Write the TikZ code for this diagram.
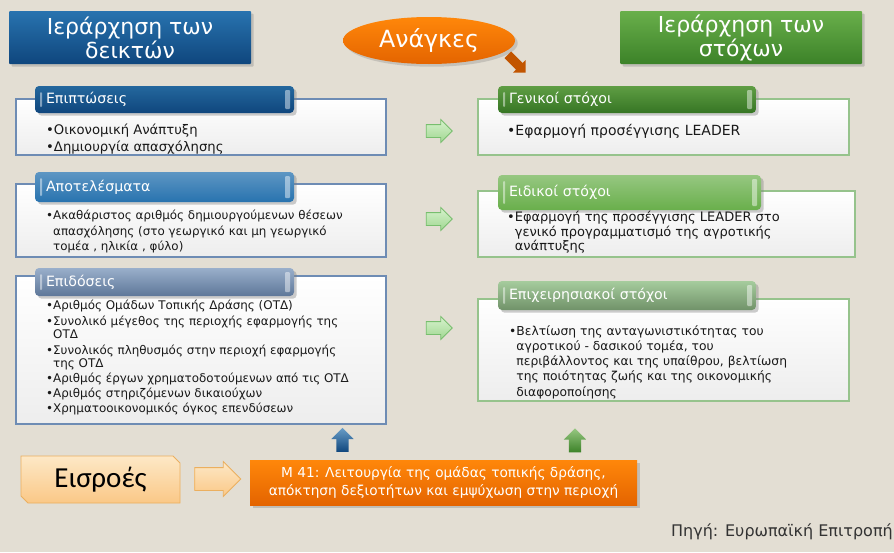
\documentclass[tikz,border=0pt]{standalone}
\usepackage{fontspec}
\setmainfont{DejaVu Sans}
\newfontfamily\calfont{Carlito}
\usepackage{tikz}
\usetikzlibrary{shapes,arrows,shadows,positioning,fit}

\definecolor{bgbeige}{RGB}{227,222,211}
\definecolor{blueA}{RGB}{40,115,175}
\definecolor{blueB}{RGB}{15,70,125}
\definecolor{greenA}{RGB}{105,175,75}
\definecolor{greenB}{RGB}{60,130,40}
\definecolor{orangeA}{RGB}{255,135,10}
\definecolor{orangeB}{RGB}{228,100,0}
\definecolor{paleorange}{RGB}{253,232,198}
\definecolor{paleorangeB}{RGB}{250,200,135}
\definecolor{orangeline}{RGB}{235,175,95}
\definecolor{paneblue}{RGB}{110,140,180}
\definecolor{panegreen}{RGB}{150,195,140}
\definecolor{paleg}{RGB}{215,242,205}
\definecolor{palegB}{RGB}{160,215,145}
\definecolor{greenline}{RGB}{120,190,110}

\begin{document}
\begin{tikzpicture}[x=1pt,y=-1pt]
			\tikzstyle{Title}	= [rounded corners=1pt, minimum width=242pt, minimum height=53pt, inner sep=0pt, align=center, text=white, font=\fontsize{22}{24}\selectfont, drop shadow={opacity=0.35}]
			\tikzstyle{TBlue}	= [top color=blueA, bottom color=blueB]
			\tikzstyle{TGreen}	= [top color=greenA, bottom color=greenB]
			\tikzstyle{Pane}	= [draw, line width=1.2pt, top color=white, bottom color=white!93!black, minimum width=370pt, inner sep=0pt]
			\tikzstyle{PBlue}	= [draw=paneblue]
			\tikzstyle{PGreen}	= [draw=panegreen]
			\tikzstyle{Gloss}	= [white, opacity=0.45, rounded corners=1pt]
			\tikzstyle{Head}	= [rounded corners=4pt, minimum height=27pt, inner xsep=11pt, inner ysep=0pt, text=white, align=left, font=\fontsize{14.2}{16}\selectfont, drop shadow={opacity=0.4},
				path picture={
					\fill[Gloss] ([xshift=5pt,yshift=-6pt]path picture bounding box.north west) rectangle ([xshift=7pt,yshift=6pt]path picture bounding box.south west);
					\fill[Gloss] ([xshift=-9pt,yshift=-4pt]path picture bounding box.north east) rectangle ([xshift=-4pt,yshift=4pt]path picture bounding box.south east);
				}]
			\tikzstyle{Body}	= [anchor=north west, inner sep=0pt, align=left, text=black!90]
			\tikzstyle{Block}	= [single arrow, inner xsep=0pt, single arrow head extend=5pt]
			\tikzstyle{Next}	= [Block, draw=greenline, top color=paleg, bottom color=palegB, line width=0.8pt, minimum height=26pt, inner ysep=6pt]
			\tikzstyle{Up}		= [Block, rotate=90, minimum height=24pt, inner ysep=6pt]

			\path[use as bounding box, fill=bgbeige] (0,0) rectangle (894,552);

			% titles
			\node (hInd) at (130,37.5) [Title][TBlue] {Ιεράρχηση των\\δεικτών};
			\node (hObj) at (741,37.5) [Title][TGreen] {Ιεράρχηση των\\στόχων};
			\node (needs) at (429,40.5) [ellipse, minimum width=172pt, minimum height=47pt, top color=orangeA, bottom color=orangeB, text=white, font=\fontsize{23.7}{25}\selectfont, drop shadow={opacity=0.3}] {Ανάγκες};
			\node (needsArr) at (515,62) [Block, rotate=-45, minimum height=25pt, inner ysep=4.5pt, single arrow head extend=4pt, fill=orangeB!85!black] {};

			% left column
			\node (pImp) at (201,127) [Pane][PBlue][minimum height=56pt] {};
			\node (pRes) at (201,220.5) [Pane][PBlue][minimum height=73pt] {};
			\node (pPer) at (201,350) [Pane][PBlue][minimum height=148pt] {};

			\node (hImp) at (164.5,99.5) [Head][top color=blueA!90!black, bottom color=blueB, minimum width=259pt, text width=237pt] {Επιπτώσεις};
			\node (hRes) at (164.5,187) [Head][top color=blueA!75!white, bottom color=blueA, minimum height=30pt, minimum width=259pt, text width=237pt] {Αποτελέσματα};
			\node (hPer) at (164.5,282) [Head][top color=paneblue!70!white, bottom color=paneblue!85!black, minimum height=28pt, minimum width=259pt, text width=237pt] {Επιδόσεις};

			\node (tImp) at (46,124) [Body][font=\fontsize{13.2}{17}\selectfont] {•Οικονομική Ανάπτυξη\\•Δημιουργία απασχόλησης};
			\node (tRes) at (46,210) [Body][font=\fontsize{11.9}{15.5}\selectfont] {•Ακαθάριστος αριθμός δημιουργούμενων θέσεων\\\phantom{•}απασχόλησης (στο γεωργικό και μη γεωργικό\\\phantom{•}τομέα , ηλικία , φύλο)};
			\node (tPer) at (46,300) [Body][font=\fontsize{11.9}{13}\selectfont] {•Αριθμός Ομάδων Τοπικής Δράσης (ΟΤΔ)\\[3pt]•Συνολικό μέγεθος της περιοχής εφαρμογής της\\\phantom{•}ΟΤΔ\\[3pt]•Συνολικός πληθυσμός στην περιοχή εφαρμογής\\\phantom{•}της ΟΤΔ\\[2pt]•Αριθμός έργων χρηματοδοτούμενων από τις ΟΤΔ\\[2pt]•Αριθμός στηριζόμενων δικαιούχων\\[2pt]•Χρηματοοικονομικός όγκος επενδύσεων};

			% arrows between the columns
			\node (aImp) at (436,131) [Next] {};
			\node (aRes) at (436,219) [Next] {};
			\node (aPer) at (436,328) [Next] {};

			% right column
			\node (pGen) at (663.5,127) [Pane][PGreen][minimum height=56pt, minimum width=371pt] {};
			\node (pSpe) at (666.5,224) [Pane][PGreen][minimum height=66pt, minimum width=377pt] {};
			\node (pOpe) at (663.5,350) [Pane][PGreen][minimum height=102pt, minimum width=371pt] {};

			\node (hGen) at (627,99.5) [Head][top color=greenA!90!black, bottom color=greenB!90!black, minimum width=258pt, text width=236pt] {Γενικοί στόχοι};
			\node (hSpe) at (629.5,192.5) [Head][top color=greenA!70!white, bottom color=greenA, minimum height=35pt, minimum width=263pt, text width=241pt] {Ειδικοί στόχοι};
			\node (hOpe) at (627,295.5) [Head][top color=panegreen!85!white, bottom color=panegreen!75!black, minimum height=29pt, minimum width=258pt, text width=236pt] {Επιχειρησιακοί στόχοι};

			\node (tGen) at (507,124) [Body][font=\fontsize{14}{17}\selectfont] {•Εφαρμογή προσέγγισης LEADER};
			\node (tSpe) at (507,211) [Body][font=\fontsize{13}{14.5}\selectfont] {•Εφαρμογή της προσέγγισης LEADER στο\\\phantom{•}γενικό προγραμματισμό της αγροτικής\\\phantom{•}ανάπτυξης};
			\node (tOpe) at (509,325) [Body][font=\fontsize{12.3}{15.3}\selectfont] {•Βελτίωση της ανταγωνιστικότητας του\\\phantom{•}αγροτικού - δασικού τομέα, του\\\phantom{•}περιβάλλοντος και της υπαίθρου, βελτίωση\\\phantom{•}της ποιότητας ζωής και της οικονομικής\\\phantom{•}διαφοροποίησης};

			% inputs
			\node (inArr) at (212,479) [Block, draw=orangeline, top color=paleorange, bottom color=paleorangeB, line width=0.8pt, minimum height=46pt, inner ysep=11pt, single arrow head extend=6pt] {};
			\node (m41) at (443.5,482.5) [minimum width=387pt, minimum height=45pt, top color=orangeA, bottom color=orangeB, text=white, align=center, font=\fontsize{13.7}{18}\selectfont, drop shadow={opacity=0.35}] {Μ 41: Λειτουργία της ομάδας τοπικής δράσης,\\απόκτηση δεξιοτήτων και εμψύχωση στην περιοχή};
			\node (upPer) at (342.5,443) [Up][top color=blueA!70!white, bottom color=blueB] {};
			\node (upOpe) at (575,443.5) [Up][top color=greenA!70!white, bottom color=greenB] {};

			\draw[draw=orangeline, line width=0.8pt, top color=paleorange, bottom color=paleorangeB] (21,456) -- (173,456) -- (180,463) -- (180,503) -- (28,503) -- (21,496) -- cycle;
			\node (inputs) at (100.5,479.5) [font=\calfont\fontsize{29}{31}\selectfont, text=black] {Εισροές};

			\node (source) at (893,532) [anchor=east, inner sep=0pt, text=black!80, font=\fontsize{16}{18}\selectfont] {Πηγή: Ευρωπαϊκή Επιτροπή};
		\end{tikzpicture}
\end{document}
